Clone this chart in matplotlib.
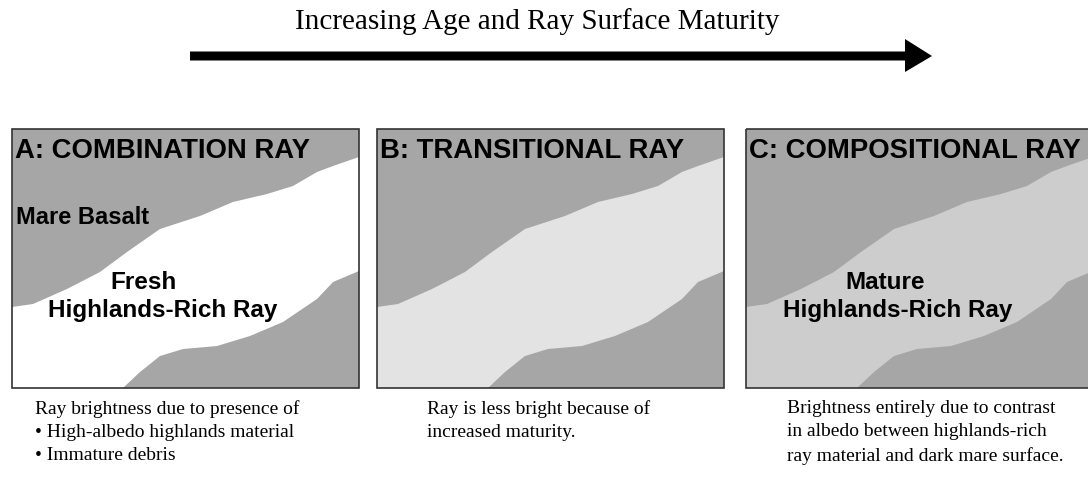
import matplotlib.pyplot as plt
from matplotlib.patches import Polygon, Rectangle

# ray band outline, measured relative to a panel's top-left corner (pixels)
upper_x = [0, 21, 55, 88, 115, 148, 188, 221, 255, 281, 305, 321, 347]
upper_y = [178, 175, 160, 143, 123, 100, 87, 73, 65, 57, 43, 37, 28]
lower_x = [111, 128, 148, 171, 205, 238, 271, 305, 321, 347]
lower_y = [259, 243, 227, 220, 217, 207, 193, 170, 153, 142]

panel_left = [12, 377, 746]
panel_titles = ['A: COMBINATION RAY', 'B: TRANSITIONAL RAY', 'C: COMPOSITIONAL RAY']
ray_colors = ['#ffffff', '#e3e3e3', '#cdcdcd']
captions = [
    'Ray brightness due to presence of\n\u2022 High-albedo highlands material\n\u2022 Immature debris',
    'Ray is less bright because of\nincreased maturity.',
    'Brightness entirely due to contrast\nin albedo between highlands-rich\nray material and dark mare surface.',
]
caption_x = [35, 427, 787]

panel_top = 130
panel_w, panel_h = 347, 259
mare = '#a6a6a6'

fig = plt.figure(figsize=(10.88, 4.81), dpi=100)
ax = fig.add_axes([0, 0, 1, 1])
ax.set_xlim(0, 1088)
ax.set_ylim(481, 0)
ax.axis('off')

# title + arrow
ax.text(537, 22, 'Increasing Age and Ray Surface Maturity', ha='center', va='center',
        fontsize=21, family='Liberation Serif')
ax.add_patch(Polygon([(190, 52.5), (905, 52.5), (905, 40), (932, 57), (905, 73),
                      (905, 61.5), (190, 61.5)], closed=True, facecolor='black',
                     edgecolor='none'))

for i, x0 in enumerate(panel_left):
    ax.add_patch(Rectangle((x0, panel_top), panel_w, panel_h, facecolor=mare, edgecolor='none'))
    pts = [(x0 + x, panel_top + y) for x, y in zip(upper_x, upper_y)]
    pts += [(x0 + x, panel_top + y) for x, y in zip(lower_x[::-1], lower_y[::-1])]
    pts += [(x0, panel_top + panel_h)]
    ax.add_patch(Polygon(pts, closed=True, facecolor=ray_colors[i], edgecolor='none'))
    ax.add_patch(Rectangle((x0, panel_top), panel_w, panel_h, facecolor='none',
                           edgecolor='#333333', lw=1.2))
    ax.text(x0 + 3, 151, panel_titles[i], ha='left', va='center', fontsize=19.8,
            fontweight='bold', family='Liberation Sans')
    ax.text(caption_x[i], 400, captions[i], ha='left', va='top', fontsize=14,
            family='Liberation Serif', linespacing=1.48)

ax.text(16, 218, 'Mare Basalt', ha='left', va='center', fontsize=17,
        fontweight='bold', family='Liberation Sans')
ax.text(143, 283, 'Fresh', ha='center', va='center', fontsize=17.5,
        fontweight='bold', family='Liberation Sans')
ax.text(163, 311, 'Highlands-Rich Ray', ha='center', va='center', fontsize=17.5,
        fontweight='bold', family='Liberation Sans')
ax.text(885, 283, 'Mature', ha='center', va='center', fontsize=17.5,
        fontweight='bold', family='Liberation Sans')
ax.text(898, 311, 'Highlands-Rich Ray', ha='center', va='center', fontsize=17.5,
        fontweight='bold', family='Liberation Sans')

plt.savefig('out.png', dpi=100)
